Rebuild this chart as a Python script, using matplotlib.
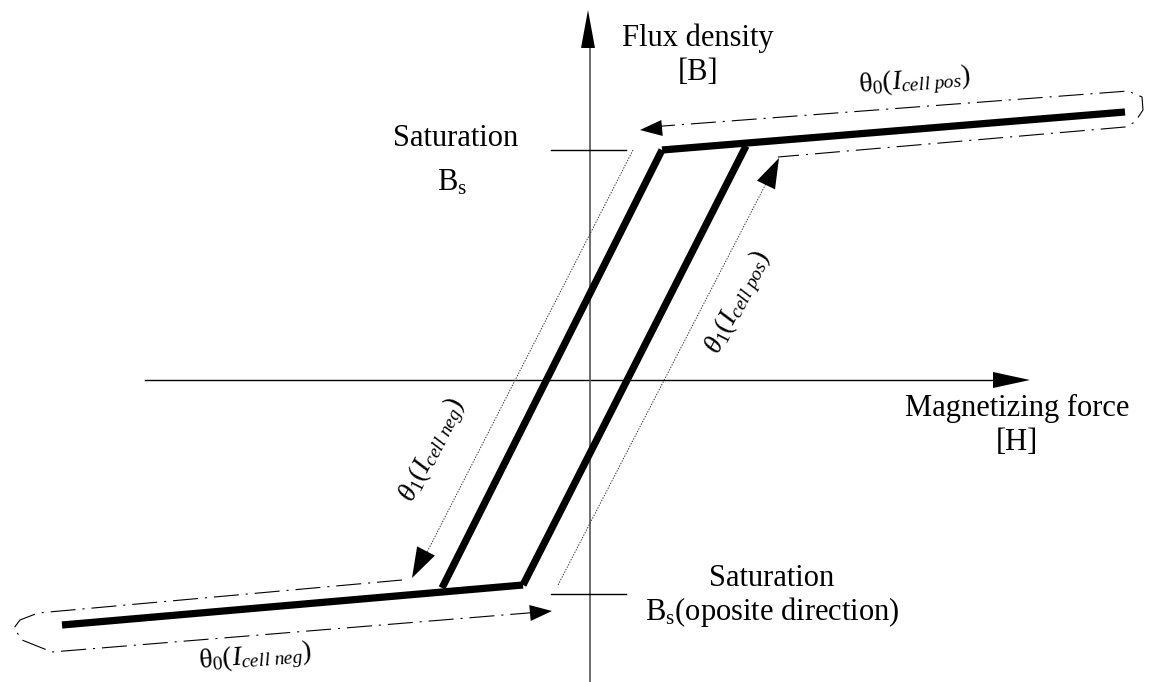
import numpy as np
import matplotlib
matplotlib.use('Agg')
import matplotlib.pyplot as plt
from matplotlib.patches import Polygon

plt.rcParams['font.family'] = ['Liberation Serif', 'DejaVu Serif']
plt.rcParams['mathtext.fontset'] = 'custom'
plt.rcParams['mathtext.rm'] = 'Liberation Serif'
plt.rcParams['mathtext.it'] = 'Liberation Serif:italic'
plt.rcParams['lines.scale_dashes'] = False

# hysteresis loop corners (H, B) in drawing units
loop_low_x = [62, 523]
loop_low_y = [625, 585]
loop_up_x = [662, 1125]
loop_up_y = [150, 112]
branch_left_x = [662, 442]
branch_left_y = [150, 588]
branch_right_x = [746, 523]
branch_right_y = [146, 585]

# saturation ticks on the B axis
sat_y = [150, 594]

# dash-dot travel paths (theta_0)
path_top_x = [650, 1115, 1128, 1142, 1143, 1135, 1125, 778]
path_top_y = [127, 92, 91, 97, 110, 122, 127, 157]
path_bot_x = [402, 38, 20, 14, 22, 42, 52, 540]
path_bot_y = [580, 613, 620, 628, 640, 648, 652, 612]

# thin dotted travel paths (theta_1)
thin_left_x = [633, 422]
thin_left_y = [150, 562]
thin_right_x = [558, 772]
thin_right_y = [585, 172]

fig = plt.figure(figsize=(11.7, 6.82), dpi=100)
ax = fig.add_axes([0, 0, 1, 1])
ax.set_xlim(0, 1170)
ax.set_ylim(682, 0)
ax.axis('off')


def head(tip, base, half, color='black'):
    tip = np.array(tip, float)
    base = np.array(base, float)
    d = tip - base
    n = np.array([-d[1], d[0]]) / np.hypot(*d)
    pts = [tip, base + n * half, base - n * half]
    ax.add_patch(Polygon(pts, closed=True, color=color, lw=0, zorder=5))


# axes
axis_col = '#555555'
ax.plot([145, 1000], [380, 380], color='black', lw=1.0)
head((1030, 380), (993, 380), 8)
ax.plot([590, 590], [682, 40], color=axis_col, lw=1.2)
head((588, 10), (588, 48), 7)

# saturation ticks
for y in sat_y:
    ax.plot([551, 626], [y, y], color='black', lw=1.0)

# loop
for xs, ys in [(loop_low_x, loop_low_y), (loop_up_x, loop_up_y),
               (branch_left_x, branch_left_y), (branch_right_x, branch_right_y)]:
    ax.plot(xs, ys, color='black', lw=5.2, solid_capstyle='butt',
            solid_joinstyle='miter')

# dash-dot paths
dd = (0, (18, 5, 1.5, 5))
ax.plot(path_top_x, path_top_y, color='black', lw=0.8, linestyle=dd)
head((640, 130), (662, 128), 8)
ax.plot(path_bot_x, path_bot_y, color='black', lw=0.8, linestyle=dd)
head((552, 611), (530, 613), 8)

# thin dotted paths
ax.plot(thin_left_x, thin_left_y, color='#333333', lw=0.7, linestyle=(0, (1, 1)))
head((412, 578), (426, 551), 10)
ax.plot(thin_right_x, thin_right_y, color='#333333', lw=0.7, linestyle=(0, (1, 1)))
head((779, 158), (766, 185), 10)

# text labels
fs = 22
ax.text(698, 38, 'Flux density', ha='center', va='center', fontsize=fs)
ax.text(698, 73, '[B]', ha='center', va='center', fontsize=fs)
ax.text(456, 138, 'Saturation', ha='center', va='center', fontsize=fs)
ax.text(452, 183, r'B$_\mathrm{s}$', ha='center', va='center', fontsize=fs)
ax.text(1017, 408, 'Magnetizing force', ha='center', va='center', fontsize=fs)
ax.text(1017, 443, '[H]', ha='center', va='center', fontsize=fs)
ax.text(772, 578, 'Saturation', ha='center', va='center', fontsize=fs)
ax.text(772, 612, r'B$_\mathrm{s}$(oposite direction)', ha='center', va='center',
        fontsize=fs)

lab = 20
ax.text(915, 82, r'$\mathrm{\theta}_0(I_{cell\ pos})$', ha='center', va='center',
        fontsize=lab, rotation=4.7, rotation_mode='anchor')
ax.text(255, 658, r'$\mathrm{\theta}_0(I_{cell\ neg})$', ha='center', va='center',
        fontsize=lab, rotation=4.7, rotation_mode='anchor')
ax.text(738, 303, r'$\theta_1(I_{cell\ pos})$', ha='center', va='center',
        fontsize=lab, rotation=63, rotation_mode='anchor')
ax.text(433, 450, r'$\theta_1(I_{cell\ neg})$', ha='center', va='center',
        fontsize=lab, rotation=63, rotation_mode='anchor')

fig.savefig('out.png', dpi=100)
